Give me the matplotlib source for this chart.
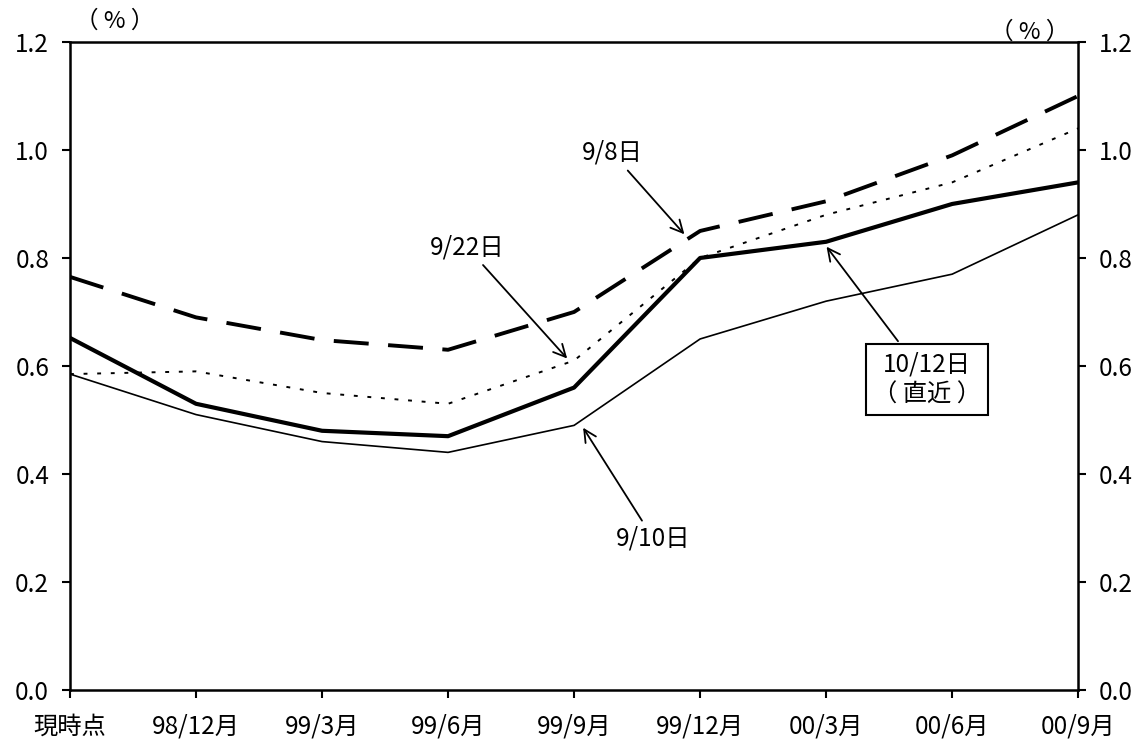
import matplotlib
matplotlib.use("Agg")
import matplotlib.pyplot as plt
import numpy as np

plt.rcParams['font.family'] = ['Noto Sans CJK JP', 'DejaVu Sans']

# categories on the x axis
periods = ["現時点", "98/12月", "99/3月", "99/6月", "99/9月", "99/12月", "00/3月", "00/6月", "00/9月"]

# implied rates per date (%)
rate_0908 = [0.765, 0.69, 0.648, 0.63, 0.70, 0.85, 0.905, 0.99, 1.10]
rate_0922 = [0.585, 0.59, 0.55, 0.53, 0.61, 0.80, 0.88, 0.94, 1.04]
rate_1012 = [0.652, 0.53, 0.48, 0.47, 0.56, 0.80, 0.83, 0.90, 0.94]
rate_0910 = [0.585, 0.51, 0.46, 0.44, 0.49, 0.65, 0.72, 0.77, 0.88]

yticks = [0.0, 0.2, 0.4, 0.6, 0.8, 1.0, 1.2]

fig = plt.figure(figsize=(11.47, 7.44), dpi=100)
ax = fig.add_axes([0.061, 0.0726, 0.879, 0.871])
x = np.arange(len(periods))

ax.plot(x, rate_0908, color='black', lw=2.8, dashes=(9, 5))
ax.plot(x, rate_0922, color='black', lw=1.4, dashes=(2, 5))
ax.plot(x, rate_1012, color='black', lw=3.0)
ax.plot(x, rate_0910, color='black', lw=1.2)

ax.set_xlim(0, len(periods) - 1)
ax.set_ylim(0, 1.2)
ax.set_xticks(x)
ax.set_xticklabels(periods, fontsize=17.5)
ax.set_yticks(yticks)
ax.set_yticklabels([f"{v:.1f}" for v in yticks], fontsize=17.5)
ax.tick_params(axis='both', direction='out', length=6, width=1.5)
ax.tick_params(axis='x', pad=11)
ax.tick_params(axis='y', pad=9, right=True, labelright=True)
for s in ax.spines.values():
    s.set_linewidth(1.8)

fig.text(0.100, 0.972, "（ % ）", fontsize=17, ha='center', va='center')
fig.text(0.898, 0.957, "（ % ）", fontsize=17, ha='center', va='center')

arrow = dict(arrowstyle='->', color='black', lw=1.3, mutation_scale=22)
ax.annotate("9/8日", xy=(4.89, 0.84), xytext=(4.3, 0.995),
            fontsize=17.5, ha='center', va='center', arrowprops=arrow)
ax.annotate("9/22日", xy=(3.96, 0.61), xytext=(3.15, 0.82),
            fontsize=17.5, ha='center', va='center', arrowprops=arrow)
ax.annotate("9/10日", xy=(4.06, 0.49), xytext=(4.63, 0.28),
            fontsize=17.5, ha='center', va='center', arrowprops=arrow)
ax.annotate("10/12日\n（ 直近 ）", xy=(5.99, 0.825), xytext=(6.8, 0.575),
            fontsize=17.5, ha='center', va='center', linespacing=1.2,
            bbox=dict(boxstyle='square,pad=0.3', fc='white', ec='black', lw=1.5),
            arrowprops=arrow)

fig.savefig("out.png", dpi=100)
